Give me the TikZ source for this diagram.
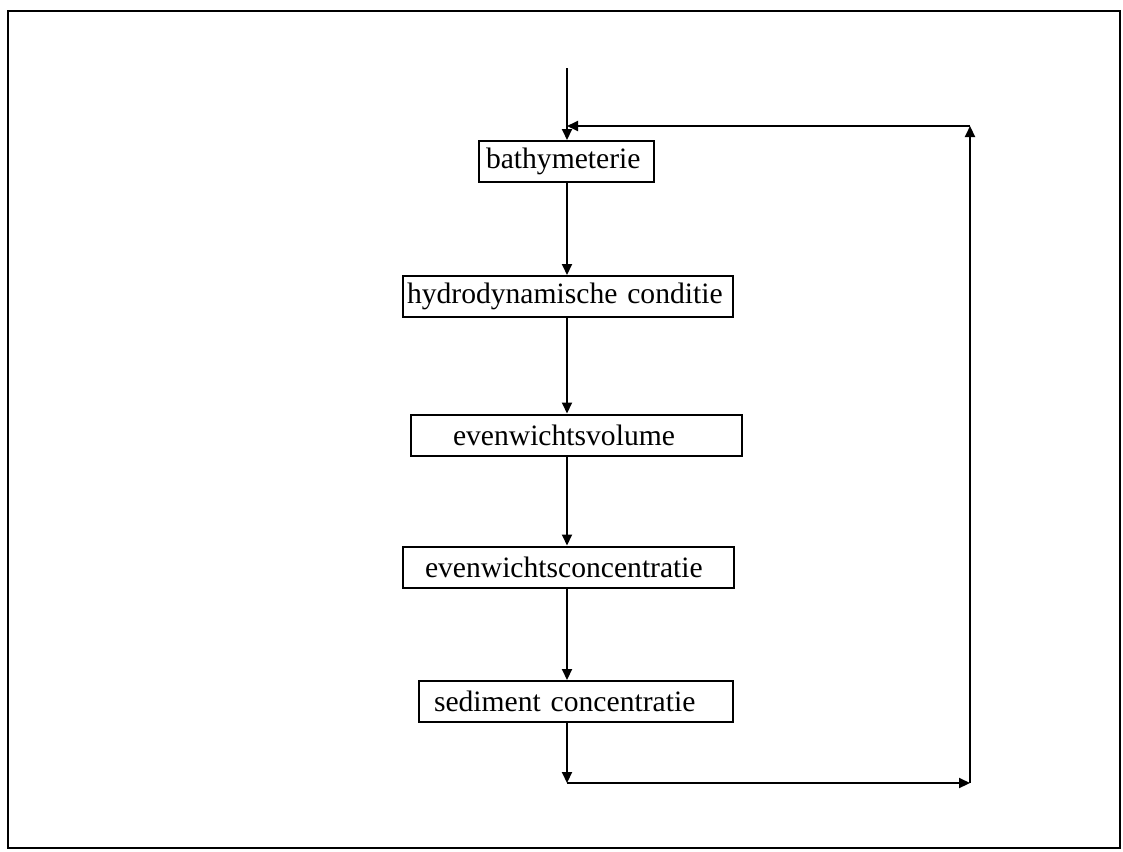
\documentclass[tikz,border=0pt]{standalone}
\usepackage{fontspec}
\setmainfont{Liberation Serif}
\usetikzlibrary{arrows.meta}
\tikzset{
  stepbox/.style={draw, rectangle, line width=2pt, inner xsep=0pt, inner ysep=0pt,
    minimum height=41pt, align=left, font=\fontsize{29.6}{34}\selectfont},
  flow/.style={line width=2pt, -{Triangle[length=11pt,width=10pt]}}
}
\begin{document}
\begin{tikzpicture}[x=1pt,y=-1pt]
\useasboundingbox (0,0) rectangle (1123,851);
\draw[line width=2.8pt] (8,11) rectangle (1120,848);

\coordinate (spine) at (567,0);
\node[stepbox, text width=175pt] (b) at (566.5,161.5) {\hspace*{7pt}bathymeterie};
\node[stepbox, text width=330pt] (h) at (568,296.5) {\hspace*{4pt}hydrodynamische conditie};
\node[stepbox, text width=331pt] (v) at (576.5,435) {\hspace*{42pt}evenwichtsvolume};
\node[stepbox, text width=331pt] (c) at (568.5,567) {\hspace*{22pt}evenwichtsconcentratie};
\node[stepbox, text width=314pt] (s) at (576,701.5) {\hspace*{15pt}sediment concentratie};

\coordinate (top) at (567,68);
\coordinate (c1) at (567,783);
\coordinate (c2) at (970,783);
\coordinate (c3) at (970,126);
\coordinate (c4) at (567,126);

\draw[flow] (top) -- (b.north -| spine);
\draw[flow] (b.south -| spine) -- (h.north -| spine);
\draw[flow] (h.south -| spine) -- (v.north -| spine);
\draw[flow] (v.south -| spine) -- (c.north -| spine);
\draw[flow] (c.south -| spine) -- (s.north -| spine);
\draw[flow] (s.south -| spine) -- (c1);
\draw[flow] (c1) -- (c2);
\draw[flow] (c2) -- (c3);
\draw[flow] (c3) -- (c4);
\end{tikzpicture}
\end{document}
